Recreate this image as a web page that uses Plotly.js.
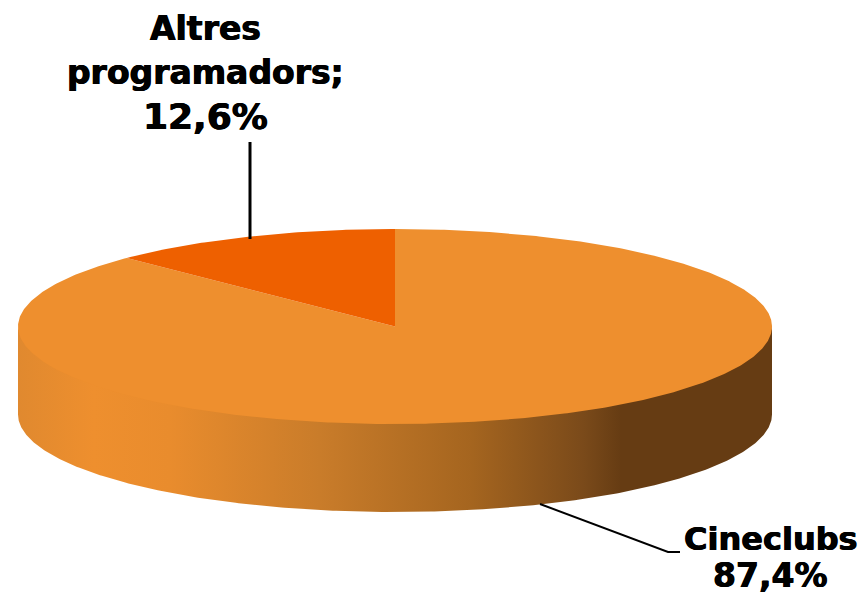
<!DOCTYPE html>
<html>
<head>
<meta charset="utf-8">
<script src="https://cdn.plot.ly/plotly-3.0.1.min.js"></script>
<style>html,body{margin:0;padding:0;background:#fff}#chart{width:860px;height:597px}</style>
</head>
<body>
<div id="chart"></div>
<script>
// Data
var categories = ['Altres programadors', 'Cineclubs'];
var shares = [12.6, 87.4];
var shareLabels = ['12,6%', '87,4%'];

// Colours
var sliceColors = ['#EE6000', '#EE8F2E'];
var wallStops = [[0, '#E0892F'], [0.1, '#EE8F2E'], [0.2, '#E98C2D'], [0.4, '#C97C2A'], [0.6, '#A5651F'], [0.75, '#7A4A1A'], [0.8, '#663C13'], [1, '#663C13']];

// Projection of the tilted disc onto the page
var CX = 395, CY = 326.5, RX = 377, RY = 97.5, DEPTH = 88;
function pt(deg, drop) {
  var t = deg * Math.PI / 180;
  return [CX + RX * Math.sin(t), CY - RY * Math.cos(t) + (drop || 0)];
}
function arc(a0, a1, drop) {
  var out = [], n = Math.max(2, Math.ceil(Math.abs(a1 - a0) * 2));
  for (var i = 0; i <= n; i++) out.push(pt(a0 + (a1 - a0) * i / n, drop));
  return out;
}
function xs(p) { return p.map(function (q) { return q[0]; }); }
function ys(p) { return p.map(function (q) { return q[1]; }); }
function poly(p, extra) {
  return Object.assign({x: xs(p), y: ys(p), mode: 'lines', fill: 'toself', hoverinfo: 'skip',
    line: {width: 0}, type: 'scatter', showlegend: false}, extra);
}

var total = shares.reduce(function (a, b) { return a + b; }, 0);
var sweep = shares[0] / total * 360;

// Outer wall: front half of the disc's rim, tucked slightly under the top face
var wall = arc(90, 270, -3).concat(arc(270, 90, DEPTH));
var wallTrace = poly(wall, {
  fillgradient: {type: 'horizontal', colorscale: wallStops},
  name: 'wall'
});

// Top faces, swept counter-clockwise from twelve o'clock
var altresFace = [[CX, CY]].concat(arc(0, -sweep, 0));
var cineFace = [[CX, CY]].concat(arc(-sweep, -360, 0));
var cineTrace = poly(cineFace, {fillcolor: sliceColors[1], name: categories[1]});
var altresTrace = poly(altresFace, {fillcolor: sliceColors[0], name: categories[0]});

// Leader lines
var leaderA = {x: [250, 250], y: [142, 239], mode: 'lines', hoverinfo: 'skip', showlegend: false,
  line: {color: '#000', width: 3}};
var leaderB = {x: [540, 668, 680], y: [504, 552, 552], mode: 'lines', hoverinfo: 'skip', showlegend: false,
  line: {color: '#000', width: 2}};

var heavy = '0.5px 0 0 #000, -0.5px 0 0 #000';
function labelFont(size) {
  return {family: '"DejaVu Sans", Verdana, sans-serif', size: size, color: '#000', weight: 700, shadow: heavy};
}
function label(x, y, text, size) {
  return {x: x, y: y, xref: 'x', yref: 'y', showarrow: false, text: text, font: labelFont(size)};
}

var layout = {
  width: 860, height: 597,
  margin: {l: 0, r: 0, t: 0, b: 0},
  paper_bgcolor: '#fff', plot_bgcolor: '#fff',
  showlegend: false,
  xaxis: {range: [0, 860], visible: false, fixedrange: true},
  yaxis: {range: [597, 0], visible: false, fixedrange: true},
  annotations: [
    label(205, 28, 'Altres', 33),
    label(205, 72, 'programadors;', 33),
    label(205, 116, shareLabels[0], 36),
    label(771, 539, categories[1], 32),
    label(770, 575, shareLabels[1], 33)
  ]
};

Plotly.newPlot('chart', [wallTrace, cineTrace, altresTrace, leaderA, leaderB], layout, {displayModeBar: false, staticPlot: true});
</script>
</body>
</html>
